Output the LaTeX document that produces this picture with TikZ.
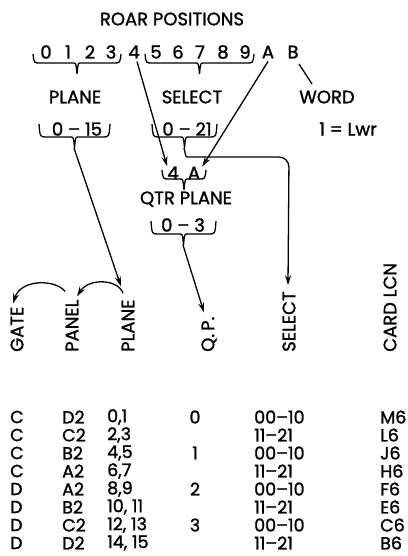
\documentclass[tikz,border=0pt]{standalone}
\usepackage{fontspec}
\setmainfont{Poppins}[FakeBold=1.3]
\usetikzlibrary{arrows.meta}
\newcommand\ubrace[4]{%
  \pgfmathsetmacro\bm{(#1+#2)/2}%
  \draw[brc] (#1,#3) .. controls (#1+1,#4) .. (#1+7,#4) -- (\bm-4,#4) .. controls (\bm-1,#4) .. (\bm,#4+11) .. controls (\bm+1,#4) .. (\bm+4,#4) -- (#2-7,#4) .. controls (#2-1,#4) .. (#2,#3);}
\begin{document}
\begin{tikzpicture}[x=1pt,y=-1pt,
  every node/.style={inner sep=0pt,font=\fontsize{18}{21}\selectfont},
  brc/.style={line width=1.3pt},
  conn/.style={line width=1.3pt},
  arr/.style={line width=1.3pt,-{Stealth[length=10pt,width=6pt]}},
  hdr/.style={rotate=90,anchor=west},
  cell/.style={anchor=west,font=\fontsize{17.5}{21}\selectfont}]
\useasboundingbox (0,0) rectangle (407,556);
\fill[white] (0,0) rectangle (407,556);
% title
\node (title) at (172,19) {ROAR POSITIONS};
% digits row
\foreach \ch/\xx/\nm in {0/46/d0,1/68/d1,2/90/d2,3/111/d3,4/134/d4,5/156/d5,6/178/d6,7/200/d7,8/223/d8,9/245/d9,A/268/dA,B/293/dB}
  \node (\nm) at (\xx,52) {\ch};
\ubrace{33}{121}{54}{63}
\coordinate (t03) at (77,74);
\ubrace{145}{254}{54}{63}
\coordinate (t59) at (199,74);
% labels
\node (plane) at (75,97) {PLANE};
\node (select) at (192,97) {SELECT};
\node (word) at (327,97) {WORD};
\coordinate (bw1) at (299,64);
\coordinate (bw2) at (312,84);
\draw[conn] (bw1) -- (bw2);
% second level
\node (r15) at (77,129) {0 -- 15};
\ubrace{39}{110}{124}{137}
\coordinate (t15) at (74,148);
\node (r21) at (187,129) {0 -- 21};
\ubrace{152}{217}{124}{137}
\coordinate (t21) at (184,148);
\node (lwr) at (348,129) {1 = Lwr};
% 4 A
\node (q4) at (173,173) {4};
\node (qA) at (194,173) {A};
\ubrace{162}{206}{170}{179}
\coordinate (t4A) at (184,190);
\node (qtr) at (186,199) {QTR PLANE};
\node (r3) at (183,225) {0 -- 3};
\ubrace{151}{216}{221}{234}
\coordinate (t3) at (183,245);
% column headers
\node[hdr] (hGate) at (17,352) {GATE};
\node[hdr] (hPanel) at (72,352) {PANEL};
\node[hdr] (hPlane) at (128,352) {PLANE};
\node[hdr] (hQP) at (209,352) {Q.\,P.};
\node[hdr] (hSel) at (289,352) {SELECT};
\node[hdr] (hCard) at (390,352) {CARD LCN};
% connectors
\draw[arr] (d4.south) ++(3,3) -- (q4.north west);
\draw[arr] (dA.south) ++(0,3) -- ([xshift=2pt]qA.north east);
\draw[arr] (t15) -- ([xshift=-7pt,yshift=13pt]hPlane.east);
\draw[arr] (t3) -- ([xshift=-5pt,yshift=4pt]hQP.east);
\draw[arr,rounded corners=10pt] (t21) .. controls (186,157) .. (197,157) -- (289,157) -- ([xshift=-1pt,yshift=6pt]hSel.east);
\draw[arr] ([xshift=-5pt,yshift=6pt]hPlane.east) .. controls ([xshift=-9pt,yshift=20pt]hPlane.east) and ([xshift=17pt,yshift=22pt]hPanel.east) .. ([xshift=5pt,yshift=3pt]hPanel.east);
\draw[arr] ([xshift=-7pt,yshift=8pt]hPanel.east) .. controls ([xshift=-16pt,yshift=20pt]hPanel.east) and ([xshift=4pt,yshift=28pt]hGate.east) .. ([xshift=-4pt,yshift=3pt]hGate.east);
% table
\foreach \i/\a/\b/\c/\d/\e/\f in {0/C/D2/{0,1}/0/00--10/M6,1/C/C2/{2,3}//11--21/L6,2/C/B2/{4,5}/1/00--10/J6,3/C/A2/{6,7}//11--21/H6,4/D/A2/{8,9}/2/00--10/F6,5/D/B2/{10, 11}//11--21/E6,6/D/C2/{12, 13}/3/00--10/C6,7/D/D2/{14, 15}//11--21/B6}{
  \pgfmathsetmacro\yy{417+18*\i}
  \node[cell] (g\i) at (10,\yy) {\a};
  \node[cell] (p\i) at (62,\yy) {\b};
  \node[cell] (l\i) at (107,\yy) {\c};
  \node[cell,anchor=center] (q\i) at (195,\yy) {\d};
  \node[cell] (s\i) at (254,\yy) {\e};
  \node[cell] (c\i) at (380,\yy) {\f};
}
\end{tikzpicture}
\end{document}
